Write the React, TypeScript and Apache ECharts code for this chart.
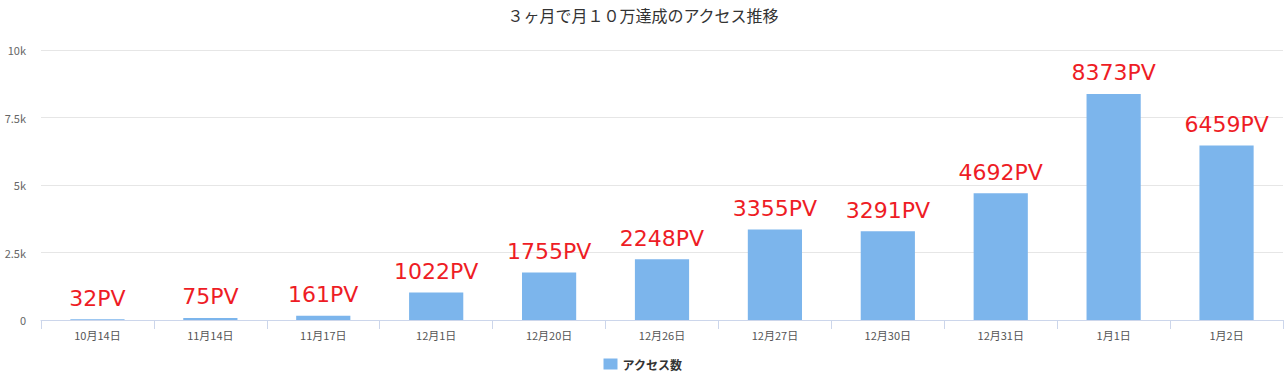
import React, { useEffect, useRef } from "react";
import * as echarts from "echarts";

const categories = ["10月14日", "11月14日", "11月17日", "12月1日", "12月20日", "12月26日", "12月27日", "12月30日", "12月31日", "1月1日", "1月2日"];
const values = [32, 75, 161, 1022, 1755, 2248, 3355, 3291, 4692, 8373, 6459];
const seriesName = "アクセス数";
const titleText = "３ヶ月で月１０万達成のアクセス推移";

const FONT = "'Noto Sans CJK JP', 'Noto Sans', sans-serif";

export default function App() {
  const ref = useRef<HTMLDivElement>(null);
  useEffect(() => {
    if (!ref.current) return;
    const chart = echarts.init(ref.current, undefined, { renderer: "svg" });
    chart.setOption({
      animation: false,
      title: {
        text: titleText,
        left: "center",
        top: 2,
        textStyle: { fontFamily: FONT, fontSize: 16, fontWeight: "normal", color: "#333" },
      },
      legend: {
        bottom: 0,
        left: "center",
        itemWidth: 14,
        itemHeight: 11,
        itemGap: 6,
        icon: "rect",
        textStyle: { fontFamily: FONT, fontSize: 12, fontWeight: "bold", color: "#333" },
        data: [seriesName],
      },
      grid: { left: 41, right: 3, top: 50, bottom: 55, containLabel: false },
      xAxis: {
        type: "category",
        data: categories,
        axisLine: { lineStyle: { color: "#ccd6eb" } },
        axisTick: { show: true, length: 9, alignWithLabel: false, lineStyle: { color: "#ccd6eb" } },
        axisLabel: { fontFamily: FONT, fontSize: 11, color: "#555", margin: 9, interval: 0 },
      },
      yAxis: {
        type: "value",
        min: 0,
        max: 10000,
        interval: 2500,
        axisLine: { show: false },
        axisTick: { show: false },
        splitLine: { lineStyle: { color: "#e6e6e6" } },
        axisLabel: {
          fontFamily: FONT,
          fontSize: 11,
          color: "#666",
          margin: 15,
          formatter: (v: number) => (v === 0 ? "0" : v / 1000 + "k"),
        },
      },
      series: [
        {
          name: seriesName,
          type: "bar",
          data: values,
          barWidth: "48%",
          itemStyle: { color: "#7cb5ec" },
          label: {
            show: true,
            position: "top",
            distance: 10,
            fontFamily: "'DejaVu Sans', sans-serif",
            fontSize: 22,
            color: "#ee1c25",
            formatter: (p: any) => p.value + "PV",
          },
        },
      ],
    });
    return () => chart.dispose();
  }, []);
  return <div ref={ref} style={{ width: 1286, height: 375, position: "absolute", left: 0, top: 0 }} />;
}
